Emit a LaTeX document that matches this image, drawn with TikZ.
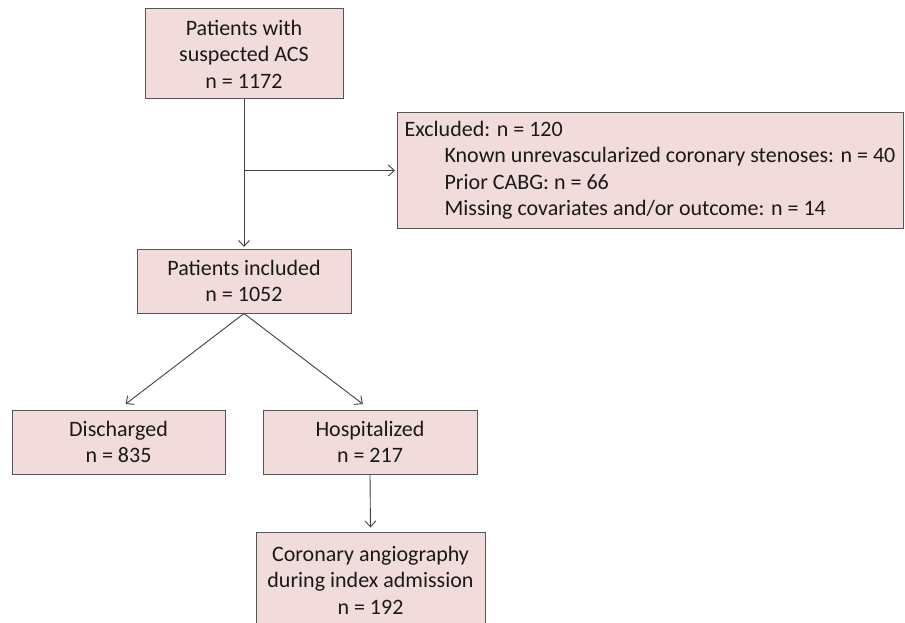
\documentclass[tikz,border=0pt]{standalone}
\usepackage{fontspec}
\setmainfont{Carlito}
\usetikzlibrary{arrows.meta,calc}
\definecolor{boxfill}{HTML}{F2DCDB}
\definecolor{boxline}{HTML}{555555}
\definecolor{arrline}{HTML}{404040}
\newcommand{\fsz}{\fontsize{22pt}{26.5pt}\selectfont}
\tikzset{
  box/.style={draw=boxline, fill=boxfill, line width=1pt, align=center, inner sep=0pt, font=\fsz, text=black!90},
  arr/.style={draw=arrline, line width=0.9pt, -{Straight Barb[length=6pt,width=11pt]}}
}
\begin{document}
\begin{tikzpicture}[x=1pt,y=-1pt]
\useasboundingbox (0,0) rectangle (905,623);
\clip (0,0) rectangle (905,623);
\node[box, minimum width=198pt, minimum height=90pt] (top) at (244,54) {Patients with\\suspected ACS\\n = 1172};
\node[box, minimum width=214pt, minimum height=64pt] (incl) at (244,281) {Patients included\\n = 1052};
\node[box, minimum width=506pt, minimum height=115pt, align=left] (excl) at (650,170.5) {Excluded: n = 120\\\hspace*{40pt}Known unrevascularized coronary stenoses: n = 40\\\hspace*{40pt}Prior CABG: n = 66\\\hspace*{40pt}Missing covariates and/or outcome: n = 14};
\node[box, minimum width=213pt, minimum height=64pt] (disc) at (118.5,442) {Discharged\\n = 835};
\node[box, minimum width=214pt, minimum height=64pt] (hosp) at (370,442) {Hospitalized\\n = 217};
\node[box, minimum width=229pt, minimum height=96pt] (cor) at (370.5,580) {Coronary angiography\\during index admission\\n = 192};
\coordinate (j) at (244,170.5);
\draw[arr, shorten >=1.5pt] (top.south) -- (incl.north);
\draw[arr, shorten >=1.5pt] (j) -- (excl.west);
\draw[arr, shorten >=9pt] (incl.south) -- (disc.north);
\draw[arr, shorten >=9pt] (incl.south) -- (hosp.north);
\draw[arr, shorten >=4pt] (hosp.south) -- (cor.north);
\end{tikzpicture}
\end{document}
